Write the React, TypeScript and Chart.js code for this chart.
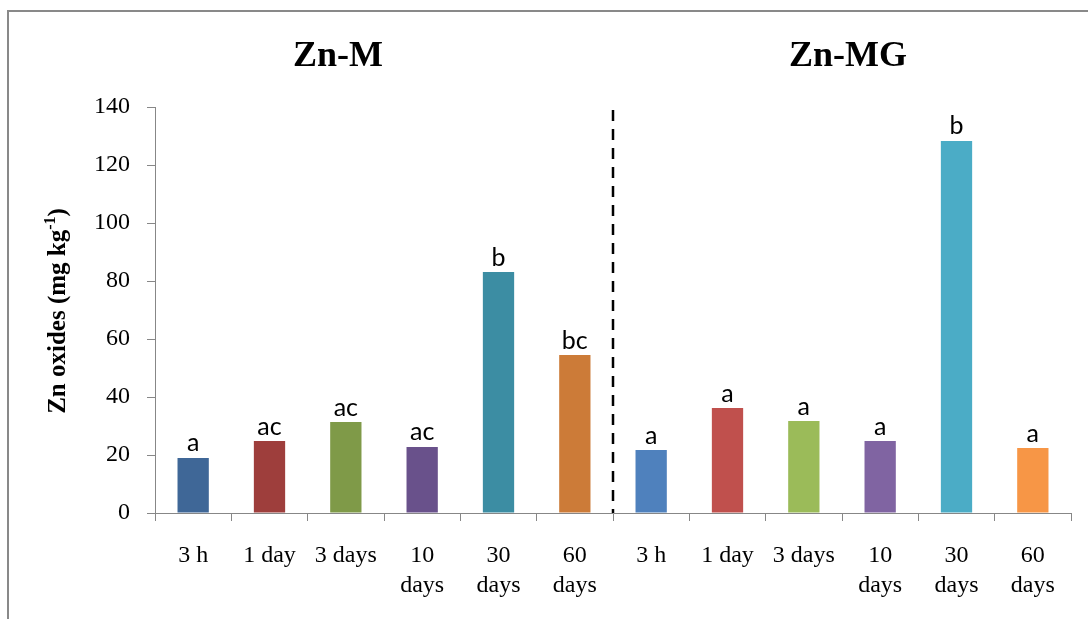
import React, { useEffect, useRef } from "react";
import { Chart, registerables } from "chart.js";

Chart.register(...registerables);

const timeLabels: (string | string[])[] = ["3 h", "1 day", "3 days", ["10", "days"], ["30", "days"], ["60", "days"]];
const groupTitles = ["Zn-M", "Zn-MG"];
const valuesM = [19.0, 24.8, 31.4, 22.8, 83.1, 54.5];
const valuesMG = [21.7, 36.2, 31.7, 24.8, 128.3, 22.4];
const lettersM = ["a", "ac", "ac", "ac", "b", "bc"];
const lettersMG = ["a", "a", "a", "a", "b", "a"];
const colorsM = ["#3F6797", "#9E3E3C", "#7F9A48", "#69518B", "#3C8DA3", "#CC7B38"];
const colorsMG = ["#4F81BD", "#C0504D", "#9BBB59", "#8064A2", "#4BACC6", "#F79646"];
const yTicks = [0, 20, 40, 60, 80, 100, 120, 140];

const SERIF = "'Liberation Serif', 'Times New Roman', serif";
const AXIS = "#878787";

export default function App() {
  const ref = useRef<HTMLCanvasElement>(null);
  useEffect(() => {
    if (!ref.current) return;
    const labels = [...timeLabels, ...timeLabels];
    const data = [...valuesM, ...valuesMG];
    const letters = [...lettersM, ...lettersMG];
    const colors = [...colorsM, ...colorsMG];

    const deco = {
      id: "deco",
      beforeDraw(chart: any) {
        const c = chart.ctx;
        c.save();
        c.fillStyle = "#fff";
        c.fillRect(0, 0, chart.width, chart.height);
        c.strokeStyle = "#898989";
        c.lineWidth = 2;
        c.beginPath();
        c.moveTo(8, 619);
        c.lineTo(8, 11);
        c.lineTo(1088, 11);
        c.stroke();
        c.restore();
      },
      afterDraw(chart: any) {
        const c = chart.ctx;
        const xs = chart.scales.x;
        const ys = chart.scales.y;
        c.save();
        // group titles
        c.fillStyle = "#000";
        c.font = `bold 36px ${SERIF}`;
        c.textAlign = "center";
        c.textBaseline = "alphabetic";
        c.fillText(groupTitles[0], 338, 66);
        c.fillText(groupTitles[1], 848, 66);
        // dashed divider
        const xd = (xs.getPixelForValue(5) + xs.getPixelForValue(6)) / 2;
        c.strokeStyle = "#000";
        c.lineWidth = 2.5;
        c.setLineDash([11, 8]);
        c.beginPath();
        c.moveTo(xd, ys.getPixelForValue(140) + 3);
        c.lineTo(xd, ys.getPixelForValue(0));
        c.stroke();
        c.setLineDash([]);
        // letters
        c.font = "25px Lato, 'Open Sans', sans-serif";
        c.textAlign = "center";
        c.textBaseline = "bottom";
        const meta = chart.getDatasetMeta(0);
        meta.data.forEach((bar: any, i: number) => {
          c.fillText(letters[i], bar.x, bar.y - 2);
        });
        // y title
        c.translate(65, 311);
        c.rotate(-Math.PI / 2);
        const main = "Zn oxides (mg kg";
        const sup = "-1";
        const end = ")";
        c.font = `bold 25px ${SERIF}`;
        const w1 = c.measureText(main).width;
        const w3 = c.measureText(end).width;
        c.font = `bold 16px ${SERIF}`;
        const w2 = c.measureText(sup).width;
        const total = w1 + w2 + w3;
        let x0 = -total / 2;
        c.textAlign = "left";
        c.textBaseline = "alphabetic";
        c.font = `bold 25px ${SERIF}`;
        c.fillText(main, x0, 0);
        x0 += w1;
        c.font = `bold 16px ${SERIF}`;
        c.fillText(sup, x0, -10);
        x0 += w2;
        c.font = `bold 25px ${SERIF}`;
        c.fillText(end, x0, 0);
        c.restore();
      },
    };

    const chart = new Chart(ref.current, {
      type: "bar",
      data: {
        labels,
        datasets: [
          {
            data,
            backgroundColor: colors,
            borderWidth: 0,
            barPercentage: 0.41,
            categoryPercentage: 1,
          },
        ],
      },
      options: {
        responsive: false,
        devicePixelRatio: 1,
        animation: false,
        layout: { padding: { top: 107, right: 17, bottom: 0, left: 0 } },
        plugins: { legend: { display: false }, tooltip: { enabled: false }, title: { display: false } },
        scales: {
          x: {
            offset: true,
            grid: { offset: true, drawOnChartArea: false, drawTicks: true, tickLength: 8, color: AXIS, lineWidth: 1 },
            border: { color: AXIS, width: 1 },
            ticks: {
              color: "#000",
              font: { family: SERIF, size: 24, lineHeight: 1.25 },
              padding: 20,
              maxRotation: 0,
              autoSkip: false,
            },
            afterFit(scale: any) {
              scale.height = 106;
            },
          },
          y: {
            min: 0,
            max: 140,
            afterBuildTicks(scale: any) {
              scale.ticks = yTicks.map((v) => ({ value: v }));
            },
            grid: { drawOnChartArea: false, drawTicks: true, tickLength: 8, color: AXIS, lineWidth: 1 },
            border: { color: AXIS, width: 1 },
            ticks: {
              color: "#000",
              font: { family: SERIF, size: 24 },
              padding: 17,
            },
            afterFit(scale: any) {
              scale.width = 155;
            },
          },
        },
      },
      plugins: [deco],
    });
    return () => chart.destroy();
  }, []);

  return (
    <div style={{ position: "fixed", left: 0, top: 0, width: 1088, height: 619, background: "#fff" }}>
      <canvas ref={ref} width={1088} height={619} style={{ display: "block" }} />
    </div>
  );
}
